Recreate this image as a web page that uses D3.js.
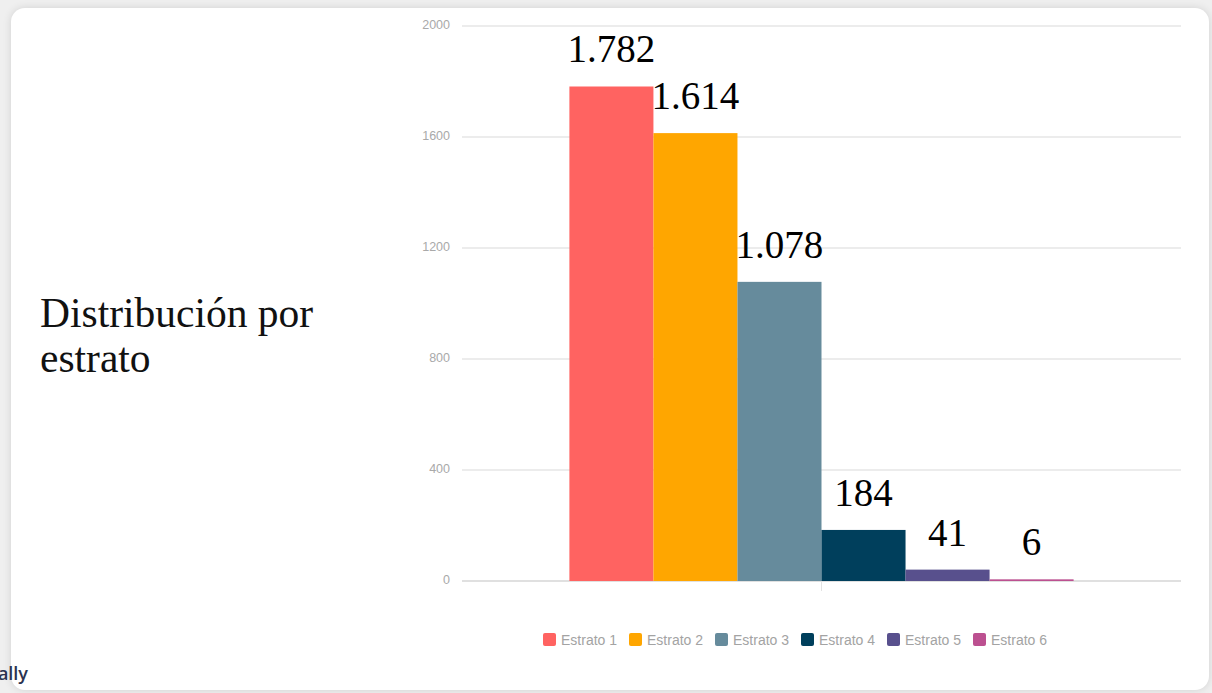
<!DOCTYPE html>
<html>
<head>
<meta charset="utf-8">
<script src="https://cdn.jsdelivr.net/npm/d3@7"></script>
<style>
  body { margin: 0; background: #efefef; overflow: hidden; }
  #card {
    position: absolute; left: 11px; top: 8px; width: 1198px; height: 682px;
    background: #fff; border-radius: 14px;
    box-shadow: 0 0 8px rgba(0,0,0,0.12);
  }
  svg { position: absolute; left: 0; top: 0; }
</style>
</head>
<body>
<div id="card"></div>
<div id="chart-container"></div>
<script>
// data
const categories = ["Estrato 1", "Estrato 2", "Estrato 3", "Estrato 4", "Estrato 5", "Estrato 6"];
const values = [1782, 1614, 1078, 184, 41, 6];
const valueLabels = ["1.782", "1.614", "1.078", "184", "41", "6"];
const colors = ["#ff6361", "#ffa600", "#668b9c", "#003f5c", "#58508d", "#bc5090"];
const yTicks = [0, 400, 800, 1200, 1600, 2000];

const svgWidth = 1212;
const svgHeight = 693;
const margin = { top: 26, right: 31, bottom: 112, left: 462 };
const width = svgWidth - margin.left - margin.right;
const height = svgHeight - margin.top - margin.bottom;

const root = d3.select("#chart-container")
    .append("svg")
    .attr("width", svgWidth)
    .attr("height", svgHeight);

// title on the left
const title = root.append("text")
    .attr("x", 40)
    .attr("y", 327)
    .attr("font-family", "Liberation Serif, serif")
    .attr("font-size", 41.5)
    .attr("fill", "#111");
title.append("tspan").attr("x", 40).text("Distribución por");
title.append("tspan").attr("x", 40).attr("dy", 45).text("estrato");

// cut off logo text bottom left (cut in the reference too)
root.append("text")
    .attr("x", 28)
    .attr("y", 680)
    .attr("text-anchor", "end")
    .attr("font-family", "Open Sans, sans-serif")
    .attr("font-weight", 600)
    .attr("font-size", 18)
    .attr("fill", "#2b3350")
    .text("Genially");

const svg = root.append("g")
    .attr("transform", `translate(${margin.left},${margin.top})`);

const y = d3.scaleLinear().domain([0, 2000]).range([height, 0]);

// one group in the middle, six bars inside
const x0 = d3.scaleBand().domain(["g"]).range([0, width]).paddingInner(0).paddingOuter(0.213);
const x1 = d3.scaleBand().domain(categories).range([0, x0.bandwidth()]);

// gridlines
svg.append("g")
    .selectAll("line")
    .data(yTicks)
    .join("line")
    .attr("x1", 0)
    .attr("x2", width)
    .attr("y1", d => y(d))
    .attr("y2", d => y(d))
    .attr("stroke", d => d === 0 ? "#d6d6d6" : "#e6e6e6")
    .attr("stroke-width", 1.5);

// y axis labels
svg.append("g")
    .selectAll("text")
    .data(yTicks)
    .join("text")
    .attr("x", -12)
    .attr("y", d => y(d) + 3)
    .attr("text-anchor", "end")
    .attr("font-family", "Liberation Sans, Arial, sans-serif")
    .attr("font-size", 12.5)
    .attr("fill", "#a9a9a9")
    .text(d => d);

// small tick under group
const gx = x0("g") + x0.bandwidth() / 2;
svg.append("line")
    .attr("x1", gx).attr("x2", gx)
    .attr("y1", height).attr("y2", height + 10)
    .attr("stroke", "#e3e3e3");

const bars = svg.append("g")
    .attr("transform", `translate(${x0("g")},0)`);

bars.selectAll("rect")
    .data(values)
    .join("rect")
    .attr("x", (d, i) => x1(categories[i]))
    .attr("width", x1.bandwidth())
    .attr("y", d => y(d))
    .attr("height", d => Math.max(y(0) - y(d), 1.5))
    .attr("fill", (d, i) => colors[i]);

// value labels, big serif
bars.selectAll("text")
    .data(values)
    .join("text")
    .attr("x", (d, i) => x1(categories[i]) + x1.bandwidth() / 2)
    .attr("y", d => Math.min(y(d) - 24, y(0) - 16))
    .attr("text-anchor", "middle")
    .attr("font-family", "Liberation Serif, serif")
    .attr("font-size", 39)
    .attr("fill", "#000")
    .text((d, i) => valueLabels[i]);

// legend
const legend = root.append("g").attr("transform", "translate(543,640)");
const item = legend.selectAll("g")
    .data(categories)
    .join("g")
    .attr("transform", (d, i) => `translate(${i * 86},0)`);
item.append("rect")
    .attr("x", 0).attr("y", -7)
    .attr("width", 13).attr("height", 13)
    .attr("rx", 2)
    .attr("fill", (d, i) => colors[i]);
item.append("text")
    .attr("x", 18).attr("y", 5)
    .attr("font-family", "Liberation Sans, Arial, sans-serif")
    .attr("font-size", 14)
    .attr("fill", "#a3a3a3")
    .text(d => d);
</script>
</body>
</html>
